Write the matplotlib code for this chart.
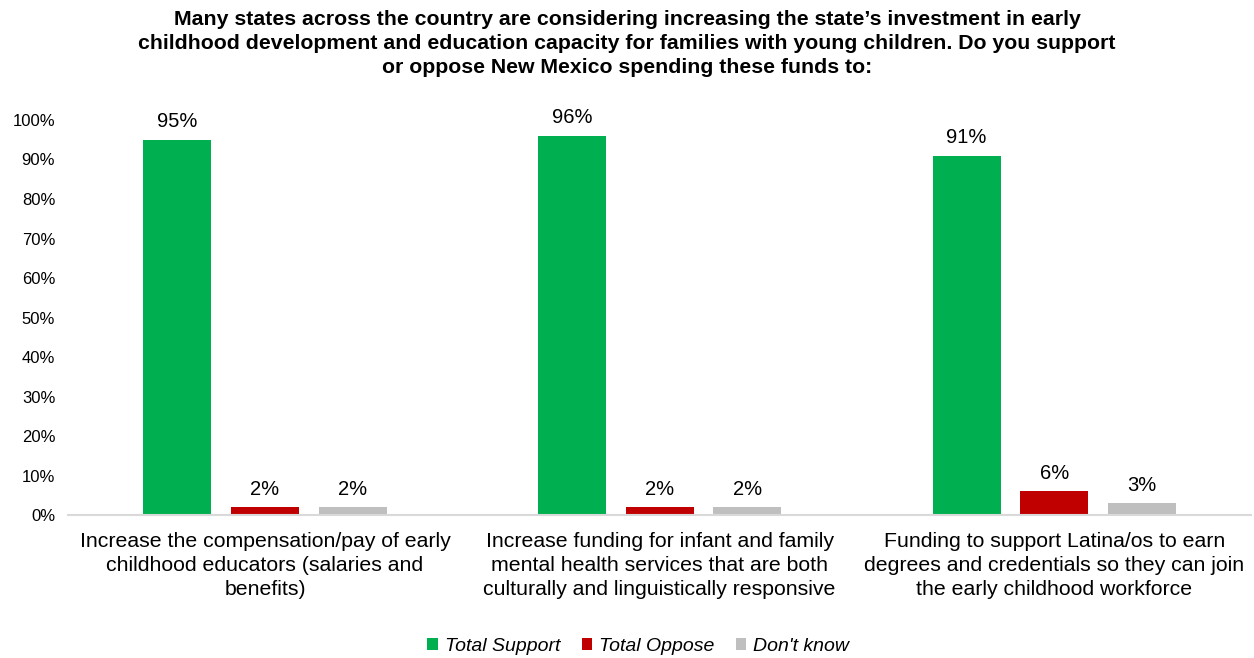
import numpy as np
import matplotlib.pyplot as plt
from matplotlib.patches import Patch

plt.rcParams['font.family'] = ['Liberation Sans', 'DejaVu Sans']

# Survey results, percent of respondents
categories = [
    'Increase the compensation/pay of early\nchildhood educators (salaries and\nbenefits)',
    'Increase funding for infant and family\nmental health services that are both\nculturally and linguistically responsive',
    'Funding to support Latina/os to earn\ndegrees and credentials so they can join\nthe early childhood workforce',
]
series_names = ['Total Support', 'Total Oppose', "Don't know"]
support = [95, 96, 91]
oppose = [2, 2, 6]
dont_know = [2, 2, 3]
colors = ['#00B050', '#C00000', '#BFBFBF']

title = ("Many states across the country are considering increasing the state\u2019s investment in early\n"
         "childhood development and education capacity for families with young children. Do you support\n"
         "or oppose New Mexico spending these funds to:")

fig = plt.figure(figsize=(12.54, 6.58), dpi=100)
ax = fig.add_axes([0.054, 0.217, 0.944, 0.6007])

x = np.arange(len(categories))
width = 0.172
step = 0.222
for i, (vals, name, col) in enumerate(zip([support, oppose, dont_know], series_names, colors)):
    pos = x + (i - 1) * step
    bars = ax.bar(pos, vals, width=width, color=col, label=name)
    for b, v in zip(bars, vals):
        ax.text(b.get_x() + b.get_width() / 2, v + 2.2, f'{v}%', ha='center', va='bottom',
                fontsize=14.5, color='#000000', clip_on=False)

ax.set_xlim(-0.5, len(categories) - 0.5)
ax.set_ylim(0, 100)
ax.set_yticks(np.arange(0, 101, 10))
ax.set_yticklabels([f'{t}%' for t in range(0, 101, 10)], fontsize=12)
ax.tick_params(axis='y', length=0, pad=9)
ax.tick_params(axis='x', length=0, pad=12)
ax.set_xticks(x)
ax.set_xticklabels(categories, fontsize=15.3, linespacing=1.35)

for s in ['top', 'right', 'left']:
    ax.spines[s].set_visible(False)
ax.spines['bottom'].set_color('#D9D9D9')
ax.spines['bottom'].set_linewidth(1.5)

fig.text(0.5, 0.985, title, ha='center', va='top', fontsize=15.3, fontweight='bold',
         linespacing=1.34)

handles = [Patch(facecolor=c, label=n) for c, n in zip(colors, series_names)]
fig.legend(handles=handles, loc='center', bbox_to_anchor=(0.509, 0.018), ncol=3, frameon=False,
           prop={'style': 'italic', 'size': 14}, handlelength=0.55, handleheight=0.55,
           handletextpad=0.35, columnspacing=1.1)

fig.savefig('out.png', dpi=100)
